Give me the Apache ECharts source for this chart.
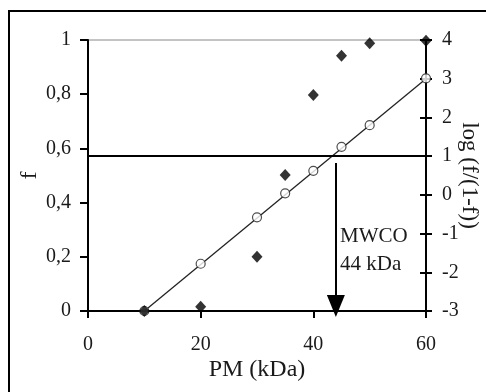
<!DOCTYPE html>
<html>
<head>
<meta charset="utf-8">
<script src="https://cdn.jsdelivr.net/npm/echarts@6/dist/echarts.min.js"></script>
<style>
  html, body { margin: 0; padding: 0; background: #fff; }
  #chart { width: 486px; height: 392px; }
</style>
</head>
<body>
<div id="chart"></div>
<script>
// data
const pm = [10, 20, 30, 35, 40, 45, 50, 60];
const fValues = [0, 0.016, 0.2, 0.502, 0.797, 0.942, 0.988, 0.997];
const logValues = [-3, -1.78, -0.58, 0.04, 0.62, 1.24, 1.8, 3.01];
const fitX = [10, 60];
const fitY = [-3, 3];
const mwcoLevel = 1;
const mwcoX = 44;
const arrowTop = 0.82;
const arrowBottom = -2.87;

const font = 'Liberation Serif';
const textColor = '#1a1a1a';

const chart = echarts.init(document.getElementById('chart'));

const fPoints = pm.map((x, i) => [x, fValues[i]]);
const logPoints = pm.map((x, i) => [x, logValues[i]]);
const fitLine = fitX.map((x, i) => [x, fitY[i]]);

const option = {
  animation: false,
  grid: {
    left: 88,
    right: 60,
    top: 40,
    bottom: 81,
    containLabel: false,
    outerBoundsMode: 'none',
    show: true,
    borderColor: '#888',
    borderWidth: 1,
  },
  xAxis: {
    type: 'value',
    min: 0,
    max: 60,
    interval: 20,
    name: 'PM (kDa)',
    nameLocation: 'middle',
    nameGap: 47,
    nameMoveOverlap: false,
    nameTextStyle: { fontFamily: font, fontSize: 24, color: textColor },
    axisLine: { lineStyle: { color: '#000', width: 2 } },
    axisTick: { length: 7, lineStyle: { color: '#000', width: 2 } },
    axisLabel: { margin: 24, fontFamily: font, fontSize: 20, color: textColor },
    splitLine: { show: false },
  },
  yAxis: [
    {
      type: 'value',
      min: 0,
      max: 1,
      interval: 0.2,
      position: 'left',
      name: 'f',
      nameLocation: 'middle',
      nameGap: 46,
      nameMoveOverlap: false,
      nameTextStyle: { fontFamily: font, fontSize: 24, color: textColor },
      axisLine: { show: true, lineStyle: { color: '#000', width: 2 } },
      axisTick: { show: true, length: 8, lineStyle: { color: '#000', width: 2 } },
      axisLabel: {
        margin: 17,
        fontFamily: font,
        fontSize: 20,
        color: textColor,
        formatter: (v) => String(Math.round(v * 10) / 10).replace('.', ','),
      },
      splitLine: { show: false },
    },
    {
      type: 'value',
      min: -3,
      max: 4,
      interval: 1,
      position: 'right',
      name: 'log (f/(1-f))',
      nameLocation: 'middle',
      nameRotate: -90,
      nameGap: 32,
      nameMoveOverlap: false,
      nameTextStyle: { fontFamily: font, fontSize: 23, color: textColor },
      axisLine: { show: true, lineStyle: { color: '#000', width: 2 } },
      axisTick: { show: true, length: 6, lineStyle: { color: '#000', width: 2 } },
      axisLabel: { margin: 16, fontFamily: font, fontSize: 20, color: textColor },
      splitLine: { show: false },
    },
    {
      // inner half of the crossing ticks on the right axis
      type: 'value',
      min: -3,
      max: 4,
      interval: 1,
      position: 'right',
      axisLine: { show: false },
      axisTick: { show: true, inside: true, length: 6, lineStyle: { color: '#000', width: 2 } },
      axisLabel: { show: false },
      splitLine: { show: false },
    },
  ],
  series: [
    {
      name: 'fit',
      type: 'line',
      yAxisIndex: 1,
      data: fitLine,
      showSymbol: false,
      symbol: 'none',
      lineStyle: { color: '#222', width: 1.3 },
      z: 2,
      markLine: {
        silent: true,
        animation: false,
        label: { show: false },
        data: [
          [
            { coord: [0, mwcoLevel], symbol: 'none' },
            { coord: [60, mwcoLevel], symbol: 'none' },
          ],
          [
            { coord: [mwcoX, arrowTop], symbol: 'none' },
            { coord: [mwcoX, arrowBottom], symbol: 'triangle', symbolSize: [18, 22], symbolRotate: 180 },
          ],
        ],
        lineStyle: { color: '#000', width: 2, type: 'solid' },
      },
    },
    {
      name: 'log',
      type: 'scatter',
      yAxisIndex: 1,
      data: logPoints,
      symbol: 'circle',
      symbolSize: 9,
      itemStyle: { color: '#fff', borderColor: '#222', borderWidth: 1.2 },
      z: 3,
    },
    {
      name: 'f',
      type: 'scatter',
      yAxisIndex: 0,
      data: fPoints,
      symbol: 'diamond',
      symbolSize: [11, 12],
      itemStyle: { color: '#000' },
      z: 4,
    },
  ],
  graphic: [
    {
      type: 'rect',
      shape: { x: 9, y: 11, width: 520, height: 420 },
      style: { fill: 'none', stroke: '#000', lineWidth: 2 },
      silent: true,
    },
    {
      type: 'text',
      left: 340,
      top: 226,
      style: { text: 'MWCO', font: '21px "Liberation Serif"', fill: textColor },
    },
    {
      type: 'text',
      left: 340,
      top: 254,
      style: { text: '44 kDa', font: '21px "Liberation Serif"', fill: textColor },
    },
  ],
};

chart.setOption(option);
</script>
</body>
</html>
